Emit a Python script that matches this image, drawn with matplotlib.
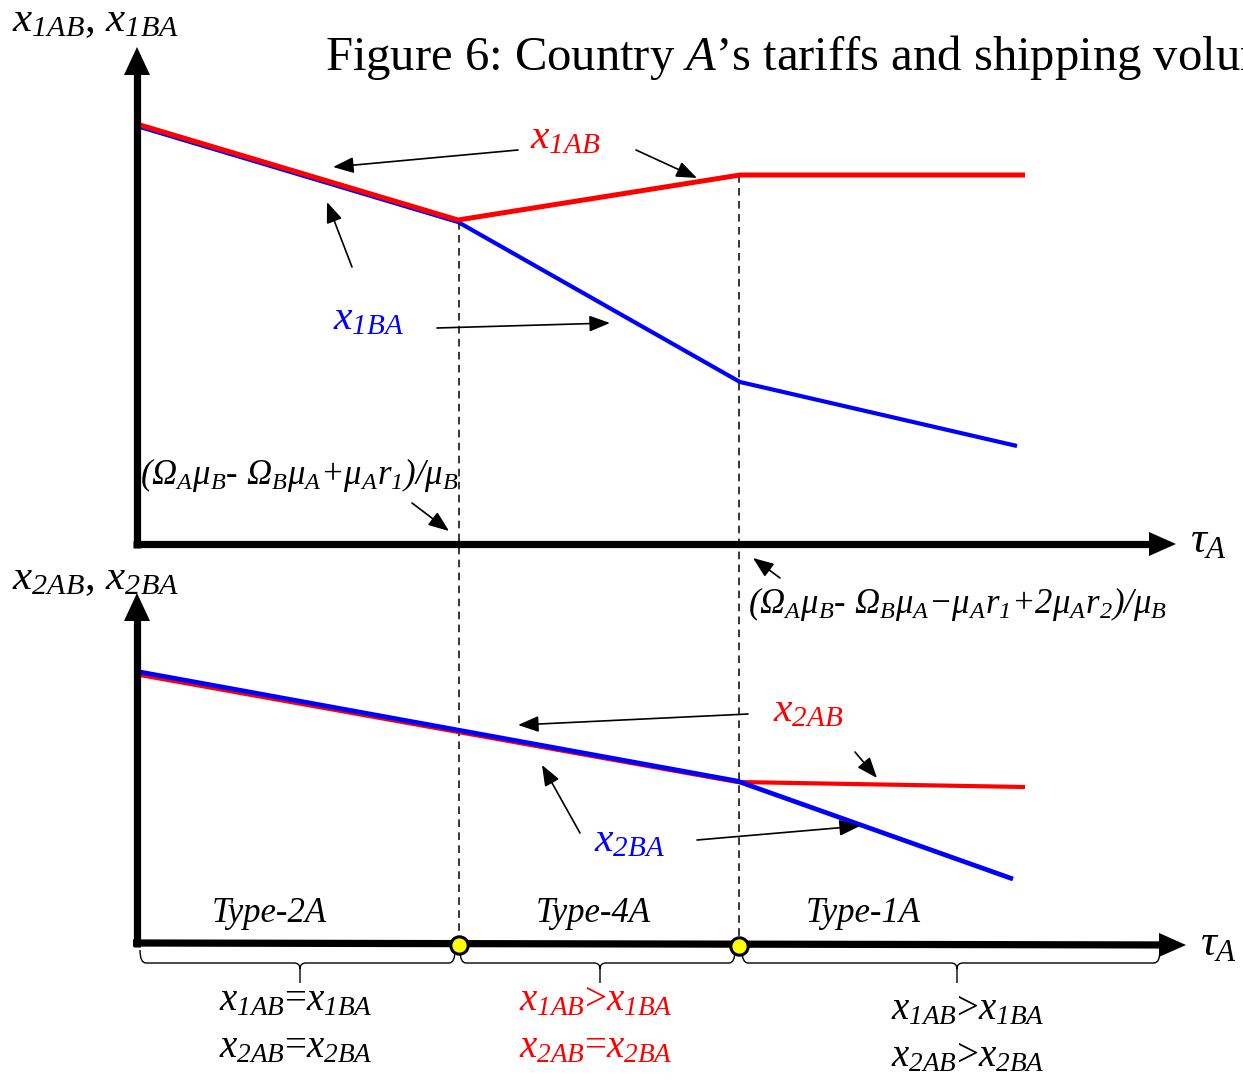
import matplotlib
matplotlib.use("Agg")
import matplotlib.pyplot as plt
from matplotlib.path import Path
from matplotlib.patches import PathPatch

plt.rcParams['font.family'] = ['Liberation Serif', 'DejaVu Serif']
plt.rcParams['mathtext.fontset'] = 'custom'
plt.rcParams['mathtext.rm'] = 'Liberation Serif:italic'
plt.rcParams['mathtext.it'] = 'Liberation Serif:italic'
plt.rcParams['mathtext.bf'] = 'Liberation Serif:bold'
plt.rcParams['mathtext.default'] = 'it'

# canvas units (x to the right, y downwards)
W, H = 1243, 1084

# upper panel: first-leg shipping volumes
tau_1AB = [140, 458, 740, 1025]
x_1AB   = [125, 220, 175, 175]
tau_1BA = [140, 458, 740, 1017]
x_1BA   = [127, 222, 382, 446]

# lower panel: second-leg shipping volumes
tau_2AB = [140, 737, 1025]
x_2AB   = [675, 782, 787]
tau_2BA = [140, 737, 1013]
x_2BA   = [672, 781, 879]

# thresholds separating the regimes
tau_cut   = [459, 739]
cut_top   = [222, 175]
regions   = ['Type-2A', 'Type-4A', 'Type-1A']
region_x  = [269, 593, 863]
region_lo = [140, 460, 742]
region_hi = [455, 735, 1160]
brace_mid = [300, 600, 957]
cond_x    = [296, 596, 968]

cond_1 = [r'$x_{1AB}$=$x_{1BA}$', r'$x_{1AB}$>$x_{1BA}$', r'$x_{1AB}$>$x_{1BA}$']
cond_2 = [r'$x_{2AB}$=$x_{2BA}$', r'$x_{2AB}$=$x_{2BA}$', r'$x_{2AB}$>$x_{2BA}$']
cond_col = ['black', 'red', 'black']

fig = plt.figure(figsize=(W / 100, H / 100), dpi=100)
ax = fig.add_axes([0, 0, 1, 1])
ax.set_xlim(0, W)
ax.set_ylim(H, 0)
ax.axis('off')


def axis_arrow(x0, y0, x1, y1, head=28, half=13):
    # thick axis line with a filled triangular head
    dx, dy = x1 - x0, y1 - y0
    L = (dx ** 2 + dy ** 2) ** 0.5
    ux, uy = dx / L, dy / L
    bx, by = x1 - ux * head, y1 - uy * head
    ax.plot([x0, bx + ux * 2], [y0, by + uy * 2], color='black', lw=5.2,
            solid_capstyle='butt')
    ax.fill([x1, bx - uy * half, bx + uy * half],
            [y1, by + ux * half, by - ux * half], color='black', lw=0)


def pointer(x0, y0, x1, y1):
    ax.annotate('', xy=(x1, y1), xytext=(x0, y0),
                arrowprops=dict(arrowstyle='-|>,head_length=0.9,head_width=0.35',
                                lw=1.2, color='black', shrinkA=0, shrinkB=0,
                                mutation_scale=14))


def brace(x0, x1, xm, y_end, y_line, y_tip, r=6):
    verts = [(x0, y_end), (x0, y_line), (x0 + r, y_line),
             (xm - r, y_line), (xm, y_line), (xm, y_line + r), (xm, y_tip),
             (xm, y_line + r), (xm, y_line), (xm + r, y_line),
             (x1 - r, y_line), (x1, y_line), (x1, y_end)]
    codes = [Path.MOVETO, Path.CURVE3, Path.CURVE3,
             Path.LINETO, Path.CURVE3, Path.CURVE3, Path.LINETO,
             Path.MOVETO, Path.CURVE3, Path.CURVE3,
             Path.LINETO, Path.CURVE3, Path.CURVE3]
    ax.add_patch(PathPatch(Path(verts, codes), fill=False, lw=1.0,
                           edgecolor='black'))


# dashed threshold guides
for xc, yc in zip(tau_cut, cut_top):
    ax.plot([xc, xc], [yc, 944], color='black', lw=1.1, ls=(0, (5, 3.5)))

# curves
ax.plot(tau_1BA, x_1BA, color='blue', lw=3.0, solid_capstyle='butt')
ax.plot(tau_1AB, x_1AB, color='red', lw=3.6, solid_capstyle='butt')
ax.plot(tau_2AB, x_2AB, color='red', lw=3.0, solid_capstyle='butt')
ax.plot(tau_2BA, x_2BA, color='blue', lw=3.4, solid_capstyle='butt')

# axes
axis_arrow(137, 548, 137, 47)
axis_arrow(133, 544, 1176, 544, head=27, half=12)
axis_arrow(137, 947, 137, 593)
axis_arrow(133, 943, 1186, 945, head=27, half=12)

ax.plot(tau_cut, [945, 946], ls='none', marker='o', ms=12.5, mfc='yellow',
        mec='black', mew=2.2, zorder=5)

# axis titles
ax.text(12, 31, r'$x_{1AB}$, $x_{1BA}$', fontsize=31, va='baseline')
ax.text(12, 589, r'$x_{2AB}$, $x_{2BA}$', fontsize=31, va='baseline')
ax.text(1190, 552, r'$\tau_A$', fontsize=32, va='baseline')
ax.text(1200, 955, r'$\tau_A$', fontsize=32, va='baseline')

ax.text(325, 70, r'Figure 6: Country $A$’s tariffs and shipping volumes',
        fontsize=35, va='baseline')

# curve labels and pointers
ax.text(530, 148, r'$x_{1AB}$', fontsize=30, color='red', va='baseline')
ax.text(333, 329, r'$x_{1BA}$', fontsize=30, color='blue', va='baseline')
ax.text(773, 721, r'$x_{2AB}$', fontsize=30, color='red', va='baseline')
ax.text(594, 851, r'$x_{2BA}$', fontsize=30, color='blue', va='baseline')

pointers = [(518, 150, 333, 167), (636, 150, 697, 178),
            (352, 267, 327, 202), (437, 328, 610, 323),
            (412, 503, 449, 531), (780, 578, 753, 558),
            (748, 714, 518, 725), (855, 752, 877, 778),
            (580, 833, 542, 765), (697, 840, 860, 826)]
for p in pointers:
    pointer(*p)

ax.text(140, 484, r'$(\Omega_A\mu_B$- $\Omega_B\mu_A{+}\mu_Ar_1)/\mu_B$',
        fontsize=25, va='baseline')
ax.text(748, 613, r'$(\Omega_A\mu_B$- $\Omega_B\mu_A{-}\mu_Ar_1{+}2\mu_Ar_2)/\mu_B$',
        fontsize=25, va='baseline')

# regime names, braces and conditions
for i, name in enumerate(regions):
    ax.text(region_x[i], 922, name, fontsize=25, style='italic', ha='center',
            va='baseline')
    brace(region_lo[i], region_hi[i], brace_mid[i], 950, 963, 983)
    dy = 0 if i < 2 else 9
    ax.text(cond_x[i], 1010 + dy, cond_1[i], fontsize=28, color=cond_col[i],
            ha='center', va='baseline')
    ax.text(cond_x[i], 1057 + dy, cond_2[i], fontsize=28, color=cond_col[i],
            ha='center', va='baseline')

fig.savefig('out.png', dpi=100)
